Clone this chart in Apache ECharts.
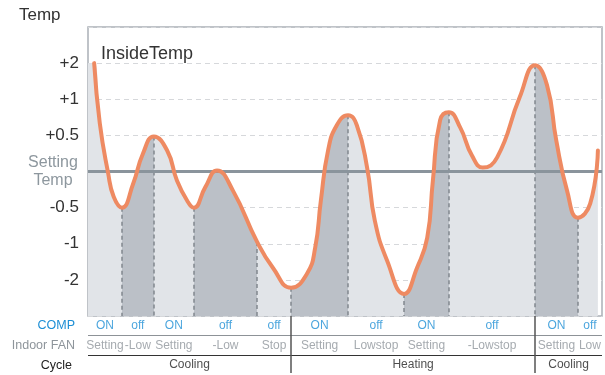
<!DOCTYPE html>
<html>
<head>
<meta charset="utf-8">
<script src="https://cdn.jsdelivr.net/npm/echarts@6/dist/echarts.min.js"></script>
<style>
  html, body { margin: 0; padding: 0; background: #fff; }
  #chart { width: 605px; height: 375px; }
</style>
</head>
<body>
<div id="chart"></div>
<script>
// Time runs 0..100 across one operating sequence.
// Temperature is plotted on a stepped scale: 0 = setting temp,
// ±1 = ±0.5°, ±2 = ±1°, ±3 = ±2°.
const times = [
  1.2, 2.3, 3.9, 5.0, 6.6, 8.8, 10.7, 12.8, 15.4, 17.3,
  19.3, 20.6, 22.8, 25.1, 28.2, 32.9, 36.0, 39.5, 42.6, 44.2,
  45.3, 46.7, 48.4, 50.6, 52.3, 54.3, 55.8, 58.2, 61.5, 64.0,
  66.0, 67.1, 68.5, 70.2, 72.4, 74.7, 76.8, 79.6, 84.0, 87.0,
  89.3, 91.1, 93.2, 95.3, 97.7, 99.2
];
const levels = [
  3.00, 1.33, -0.03, -0.70, -1.00, -0.33, 0.50, 0.97, 0.58, -0.25,
  -0.81, -1.00, -0.44, 0.03, -0.53, -1.95, -2.67, -3.22, -2.83, -2.11,
  -0.81, 0.58, 1.28, 1.56, 1.28, 0.11, -1.36, -2.47, -3.39, -2.67,
  -1.83, -0.25, 1.42, 1.64, 1.22, 0.44, 0.11, 0.39, 2.06, 2.94,
  2.39, 0.86, -0.53, -1.28, -0.89, 0.58
];
// Level of the fill at the left edge before the first reading.
const startLevel = 3.0;

// Period boundaries (compressor / fan changes).
const boundaries = [6.6, 12.8, 20.6, 32.9, 39.5, 50.6, 61.5, 70.2, 87.0, 95.3];
const compStates = ['ON', 'off', 'ON', 'off', 'off', 'ON', 'off', 'ON', 'off', 'ON', 'off'];
const fanModes = ['Setting', '-Low', 'Setting', '-Low', 'Stop', 'Setting', 'Lowstop', 'Setting', '-Lowstop', 'Setting', 'Low'];
const cycleNames = ['Cooling', 'Heating', 'Cooling'];
const cycleBounds = [0, 39.5, 87.0, 100];

const levelTicks = [-3, -2, -1, 0, 1, 2, 3];
const levelLabels = ['-2', '-1', '-0.5', 'Setting\nTemp', '+0.5', '+1', '+2'];
const rowNames = ['COMP', 'Indoor FAN', 'Cycle'];

const X_MIN = 0, X_MAX = 100;
const FONT = '"Liberation Sans", Arial, sans-serif';
const LIGHT = '#e1e4e8', DARK = '#bbc0c7';
const ORANGE = '#ee8a62';
const SMOOTH = 0.5;

const edges = [X_MIN, ...boundaries, X_MAX];
const curve = times.map((t, i) => [t, levels[i]]);
const fillData = [[X_MIN, startLevel], ...curve];
const levelAt = t => levels[times.indexOf(t)];

// Alternating shade for each period under the curve
const pieces = edges.slice(0, -1).map((s, i) => ({
  gte: s,
  lt: i === edges.length - 2 ? X_MAX + 1 : edges[i + 1],
  color: i % 2 ? DARK : LIGHT
}));

// Dashed markers from the curve down to the baseline at every boundary
const boundaryLines = boundaries.map(b => ({ coords: [[b, levelAt(b)], [b, -4]] }));

// Table text
const mids = edges.slice(0, -1).map((s, i) => (s + edges[i + 1]) / 2);
const rowColor = { 'COMP': '#1e8fd5', 'Indoor FAN': '#8e959b', 'Cycle': '#222' };
const tableText = [];
mids.forEach((m, i) => {
  tableText.push({ value: [m, 'COMP'], name: compStates[i], label: { color: rowColor['COMP'] } });
  tableText.push({ value: [m, 'Indoor FAN'], name: fanModes[i], label: { color: rowColor['Indoor FAN'] } });
});
cycleNames.forEach((c, i) => {
  tableText.push({ value: [(cycleBounds[i] + cycleBounds[i + 1]) / 2, 'Cycle'], name: c, label: { color: rowColor['Cycle'] } });
});

// Table rules: row separators and cycle dividers
const tableRules = [
  { coords: [[X_MIN, 1], [X_MAX, 1]], lineStyle: { color: '#8d9297', width: 1 } },
  { coords: [[X_MIN, 2], [X_MAX, 2]], lineStyle: { color: '#333', width: 1 } },
  ...cycleBounds.slice(1, -1).map(b => ({ coords: [[b, 0], [b, 2.9]], lineStyle: { color: '#555', width: 1.5 } }))
];

const chart = echarts.init(document.getElementById('chart'), null, { renderer: 'canvas' });
chart.setOption({
  animation: false,
  backgroundColor: '#fff',
  textStyle: { fontFamily: FONT },
  title: [
    { text: 'Temp', left: 14, top: 2, textStyle: { fontFamily: FONT, fontSize: 17, fontWeight: 'normal', color: '#333' } },
    { text: 'InsideTemp', left: 96, top: 40, textStyle: { fontFamily: FONT, fontSize: 18, fontWeight: 'normal', color: '#333' } }
  ],
  grid: [
    { left: 88, right: 3, top: 27, bottom: 59, show: true, borderColor: '#aab0b6', borderWidth: 1.5, backgroundColor: 'transparent' },
    { left: 88, right: 3, top: 316, bottom: 0 }
  ],
  xAxis: [
    { type: 'value', gridIndex: 0, min: X_MIN, max: X_MAX, show: false },
    { type: 'value', gridIndex: 1, min: X_MIN, max: X_MAX, show: false }
  ],
  yAxis: [
    {
      type: 'value', gridIndex: 0, min: -4, max: 4, interval: 1,
      axisLine: { show: false }, axisTick: { show: false },
      splitLine: { show: true, lineStyle: { color: '#d6d8db', type: [5, 4], width: 1 } },
      axisLabel: {
        margin: 9,
        formatter: v => {
          const k = levelTicks.indexOf(v);
          if (k < 0) return '';
          if (v === 0) return levelLabels[k].split('\n').map(t => '{s|' + t + '}').join('\n');
          return '{n|' + levelLabels[k] + '}';
        },
        rich: {
          n: { fontFamily: FONT, fontSize: 17, color: '#333' },
          s: { fontFamily: FONT, fontSize: 16, color: '#8d979e', width: 52, align: 'center', lineHeight: 18 }
        }
      }
    },
    {
      type: 'category', gridIndex: 1, data: rowNames, inverse: true,
      axisLine: { show: false }, axisTick: { show: false }, splitLine: { show: false },
      axisLabel: {
        margin: 13,
        formatter: v => '{r' + rowNames.indexOf(v) + '|' + v + '}',
        rich: {
          r0: { fontFamily: FONT, fontSize: 12.5, color: rowColor['COMP'] },
          r1: { fontFamily: FONT, fontSize: 12.5, color: rowColor['Indoor FAN'] },
          r2: { fontFamily: FONT, fontSize: 12.5, color: rowColor['Cycle'], padding: [0, 3, 0, 0] }
        }
      }
    },
    { type: 'value', gridIndex: 1, min: 0, max: 3, inverse: true, show: false }
  ],
  visualMap: {
    show: false, type: 'piecewise', dimension: 0, seriesIndex: 0, pieces: pieces
  },
  series: [
    {
      name: 'fill', type: 'line', xAxisIndex: 0, yAxisIndex: 0, z: 2,
      data: fillData, smooth: SMOOTH, symbol: 'none',
      lineStyle: { width: 0, opacity: 0 },
      areaStyle: { opacity: 1, origin: 'start' }
    },
    {
      name: 'setting', type: 'lines', coordinateSystem: 'cartesian2d', xAxisIndex: 0, yAxisIndex: 0, z: 5,
      data: [{ coords: [[X_MIN, 0], [X_MAX, 0]] }],
      lineStyle: { color: '#8a949c', width: 3, opacity: 1 }, silent: true
    },
    {
      name: 'boundaries', type: 'lines', coordinateSystem: 'cartesian2d', xAxisIndex: 0, yAxisIndex: 0, z: 4,
      data: boundaryLines,
      lineStyle: { color: '#80878e', width: 1.5, type: [4, 3], opacity: 1 }, silent: true
    },
    {
      name: 'InsideTemp', type: 'line', xAxisIndex: 0, yAxisIndex: 0, z: 10,
      data: curve, smooth: SMOOTH, symbol: 'none',
      lineStyle: { color: ORANGE, width: 4, cap: 'round', join: 'round' }
    },
    {
      name: 'table', type: 'scatter', xAxisIndex: 1, yAxisIndex: 1, z: 6,
      data: tableText, symbolSize: 0, silent: true,
      label: { show: true, position: 'inside', formatter: '{b}', fontFamily: FONT, fontSize: 12 }
    },
    {
      name: 'rules', type: 'lines', coordinateSystem: 'cartesian2d', xAxisIndex: 1, yAxisIndex: 2, z: 6,
      data: tableRules, lineStyle: { opacity: 1 }, silent: true
    }
  ]
});
</script>
</body>
</html>
